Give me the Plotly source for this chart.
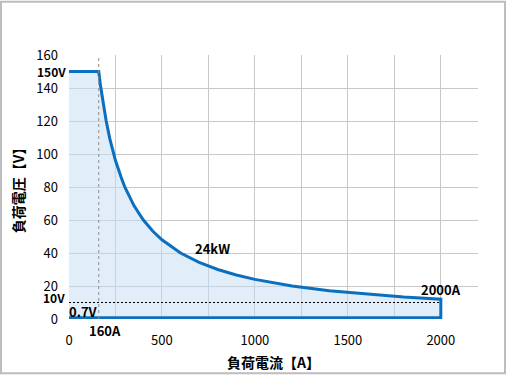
import plotly.graph_objects as go

# Data (load current A vs load voltage V)
current_a = [0, 160, 170, 180, 200, 220, 250, 280, 300, 350, 400, 450, 500, 600, 700,
             800, 900, 1000, 1200, 1400, 1600, 1800, 2000, 2000, 0]
voltage_v = [150, 150, 141, 133, 120, 109, 96, 86, 80, 68.6, 60, 53.3, 48, 40, 34.3,
             30, 26.7, 24, 20, 17.1, 15, 13.3, 12, 0.7, 0.7]

x_ticks = [0, 500, 1000, 1500, 2000]
y_ticks = [0, 20, 40, 60, 80, 100, 120, 140, 160]
x_max = 2200
y_max = 160

FONT = "Noto Sans CJK JP"
W, H = 508, 381
ML, MR, MT, MB = 69, 30, 55, 58

fig = go.Figure()
fig.add_trace(go.Scatter(
    x=current_a, y=voltage_v, mode="lines", fill="toself",
    fillcolor="rgba(196,220,242,0.5)",
    line=dict(color="#0b6fbf", width=3), hoverinfo="skip", showlegend=False))

# dotted reference lines
fig.add_trace(go.Scatter(x=[160, 160], y=[0, 160], mode="lines",
                         line=dict(color="#8c8c8c", width=1, dash="dot"), showlegend=False))
fig.add_trace(go.Scatter(x=[0, 2000], y=[10, 10], mode="lines",
                         line=dict(color="#000000", width=1, dash="2px,2px"), showlegend=False))

bold = dict(family=FONT, size=13, color="#000000")
small_bold = dict(family=FONT, size=12, color="#000000")
ann = [
    dict(text="<b>150V</b>", x=0, y=150, xref="x", yref="y", xanchor="right", xshift=-1,
         yanchor="middle", font=small_bold),
    dict(text="<b>10V</b>", x=0, y=13, xref="x", yref="y", xanchor="right", xshift=-2,
         yanchor="middle", font=small_bold),
    dict(text="<b>0.7V</b>", x=0, y=4.5, xref="x", yref="y", xanchor="left", xshift=-2,
         yanchor="middle", font=bold),
    dict(text="<b>160A</b>", x=195, y=0, xref="x", yref="paper", xanchor="center",
         yanchor="top", yshift=0, font=bold),
    dict(text="<b>24kW</b>", x=770, y=43, xref="x", yref="y", xanchor="center",
         yanchor="middle", font=bold),
    dict(text="<b>2000A</b>", x=2000, y=18, xref="x", yref="y", xanchor="center",
         yanchor="middle", font=bold),
]
for a in ann:
    a.update(showarrow=False)
fig.update_layout(annotations=ann)

pw = W - ML - MR
ph = H - MT - MB
fig.add_shape(type="rect", xref="paper", yref="paper",
              x0=(1 - ML) / pw, x1=(W - 3 - ML) / pw,
              y0=-(H - 3 - MT - ph) / ph, y1=1 + (MT - 1) / ph,
              line=dict(color="#bdbdbd", width=2), layer="below")

fig.update_layout(
    width=W, height=H,
    margin=dict(l=ML, r=MR, t=MT, b=MB),
    paper_bgcolor="white", plot_bgcolor="white",
    font=dict(family=FONT, size=13, color="#000000"),
    xaxis=dict(range=[0, x_max], tickvals=x_ticks, ticktext=[str(v) for v in x_ticks],
               showgrid=True, gridcolor="#c8c8c8", gridwidth=1,
               minor=dict(dtick=250, showgrid=True, gridcolor="#c8c8c8", gridwidth=1),
               zeroline=False, showline=False, ticks="", ticklabelstandoff=12,
               title=dict(text="<b>負荷電流【A】</b>", font=dict(family=FONT, size=14), standoff=10)),
    yaxis=dict(range=[0, y_max], tickvals=y_ticks, ticktext=[str(v) for v in y_ticks],
               showgrid=True, gridcolor="#c8c8c8", gridwidth=1,
               zeroline=False, showline=False, ticks="", ticklabelstandoff=10,
               title=dict(text="<b>負荷電圧【V】</b>", font=dict(family=FONT, size=14), standoff=8)),
)

fig.write_html("out.html", config={"displayModeBar": False},
               post_script="document.body.style.margin='0';")
